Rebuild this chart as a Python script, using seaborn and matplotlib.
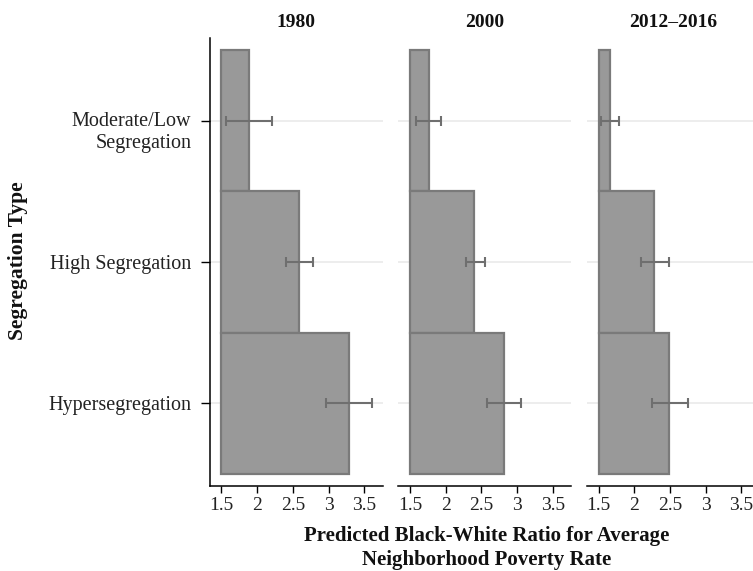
import numpy as np
import pandas as pd
import matplotlib
matplotlib.use("Agg")
import matplotlib.pyplot as plt
import matplotlib.transforms as mtransforms
import seaborn as sns

sns.set_theme(style="white")
plt.rcParams['font.family'] = ['Liberation Serif', 'DejaVu Serif']

# values
periods = ["1980", "2000", "2012–2016"]
seg_types = ["Moderate/Low\nSegregation", "High Segregation", "Hypersegregation"]

ratio_1980 = [1.89, 2.58, 3.28]
low_1980 = [1.57, 2.40, 2.96]
high_1980 = [2.21, 2.78, 3.61]

ratio_2000 = [1.76, 2.40, 2.82]
low_2000 = [1.59, 2.28, 2.58]
high_2000 = [1.94, 2.55, 3.06]

ratio_2016 = [1.66, 2.28, 2.48]
low_2016 = [1.54, 2.09, 2.25]
high_2016 = [1.79, 2.48, 2.75]

x_ticks = [1.5, 2, 2.5, 3, 3.5]
x_ticklabels = ["1.5", "2", "2.5", "3", "3.5"]
base = 1.5  # bars start here, not at zero

frames = []
for period, r, lo, hi in zip(periods,
                             [ratio_1980, ratio_2000, ratio_2016],
                             [low_1980, low_2000, low_2016],
                             [high_1980, high_2000, high_2016]):
    frames.append(pd.DataFrame({"period": period, "seg": seg_types,
                                "ratio": r, "low": lo, "high": hi}))
df = pd.concat(frames, ignore_index=True)
df["excess"] = df["ratio"] - base

fig, axes = plt.subplots(1, 3, figsize=(7.53, 5.71), dpi=100)
fig.subplots_adjust(left=0.2784, right=1.0093, bottom=0.1497, top=0.9329, wspace=0.088)

for i, (ax, period) in enumerate(zip(axes, periods)):
    sub = df[df["period"] == period].reset_index(drop=True)
    sns.barplot(data=sub, x="excess", y="seg", order=seg_types, orient="y",
                left=base, width=1.0, color="#999999", saturation=1,
                edgecolor="#7a7a7a", linewidth=1.6, errorbar=None, ax=ax, zorder=2)
    ypos = np.arange(len(sub))
    ax.errorbar(sub["ratio"], ypos,
                xerr=[sub["ratio"] - sub["low"], sub["high"] - sub["ratio"]],
                fmt="none", ecolor="#6f6f6f", elinewidth=1.5, capsize=3.5,
                capthick=1.5, zorder=3, clip_on=False)

    ax.set_xlim(1.335, 3.76)
    ax.set_ylim(2.582, -0.583)
    ax.set_axisbelow(True)
    ax.grid(axis="y", color="#ececec", linewidth=1.3)
    ax.grid(axis="x", visible=False)
    ax.set_xticks(x_ticks, labels=x_ticklabels)
    ax.tick_params(axis="x", bottom=True, length=4.8, width=1, color="black",
                   pad=3.5, labelsize=14, labelcolor="#222222")
    ax.set_xlabel("")
    ax.set_ylabel("")
    ax.set_title(period, fontsize=14, fontweight="bold", pad=8.5, color="#111111")

    if i == 0:
        ax.set_yticks(ypos, labels=seg_types, linespacing=1.25)
        ax.tick_params(axis="y", left=True, length=6.5, width=1, color="black",
                       pad=6.7, labelsize=14.5, labelcolor="#222222")
        sns.despine(ax=ax)
        # first line of the two-line label sits on the tick, second hangs below
        lbl = ax.get_yticklabels()[0]
        lbl.set_transform(lbl.get_transform() +
                          mtransforms.ScaledTranslation(0, -0.075, fig.dpi_scale_trans))
    else:
        ax.tick_params(axis="y", left=False, labelleft=False)
        sns.despine(ax=ax, left=True)
    for s in ax.spines.values():
        s.set_color("black")
        s.set_linewidth(1.1)

fig.text(17.8 / 753, 1 - 261 / 571, "Segregation Type", rotation=90,
         ha="center", va="center", fontsize=15.5, fontweight="bold", color="#111111")
fig.text(487 / 753, 1 - 525.5 / 571,
         "Predicted Black-White Ratio for Average\nNeighborhood Poverty Rate",
         ha="center", va="top", fontsize=15, fontweight="bold",
         linespacing=1.28, color="#111111")

fig.savefig("out.png", dpi=100)
